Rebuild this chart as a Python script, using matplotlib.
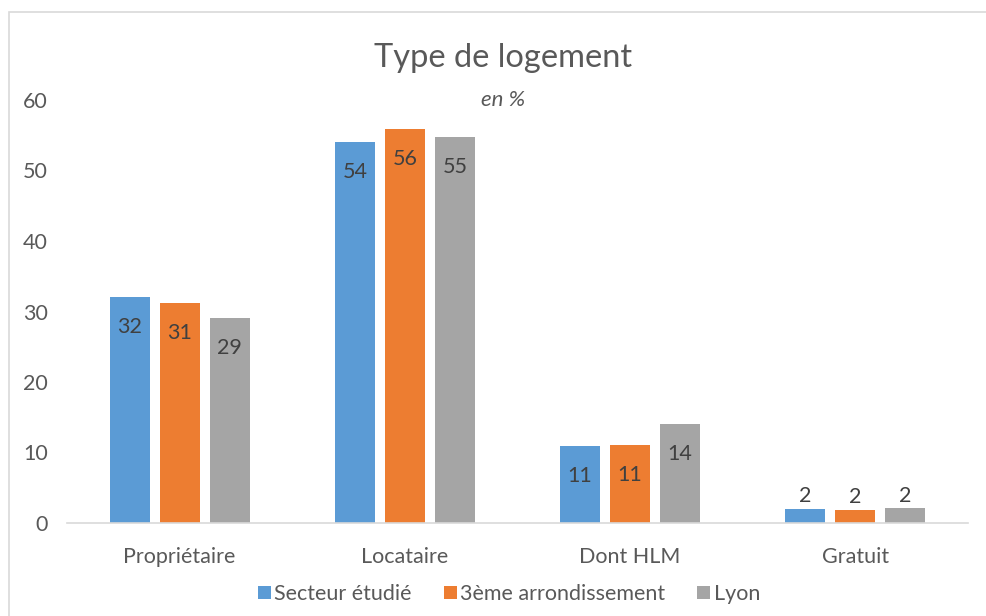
import matplotlib
matplotlib.use("Agg")
import matplotlib.pyplot as plt
from matplotlib.patches import Rectangle
import numpy as np

categories = ["Propriétaire", "Locataire", "Dont HLM", "Gratuit"]
series_names = ["Secteur étudié", "3ème arrondissement", "Lyon"]
secteur = [32.1, 54.0, 10.9, 2.0]
arrondissement = [31.2, 55.9, 11.1, 1.9]
lyon = [29.1, 54.8, 14.0, 2.1]
colors = ["#5B9BD5", "#ED7D31", "#A5A5A5"]
yticks = [0, 10, 20, 30, 40, 50, 60]

plt.rcParams['font.family'] = ['Lato', 'DejaVu Sans']
txt = "#595959"

fig = plt.figure(figsize=(9.87, 6.16), dpi=100)
ax = fig.add_axes([67/987, 1-523/616, (968-67)/987, (523-100)/616])

x = np.arange(len(categories))
w = 0.177
step = 0.222
for i, (vals, name, c) in enumerate(zip([secteur, arrondissement, lyon], series_names, colors)):
    pos = x + (i-1)*step
    ax.bar(pos, vals, width=w, color=c, label=name, zorder=2)
    for p, v in zip(pos, vals):
        if v < 5:
            ax.annotate(f"{round(v)}", (p, v), xytext=(0, 9), textcoords="offset points",
                        ha="center", va="center", fontsize=15.5, color="#404040")
        else:
            ax.annotate(f"{round(v)}", (p, v), xytext=(0, -21.5), textcoords="offset points",
                        ha="center", va="center", fontsize=15.5, color="#404040")

ax.set_xlim(-0.5, len(categories)-0.5)
ax.set_ylim(0, 60)
ax.set_yticks(yticks)
ax.set_xticks(x)
ax.set_xticklabels(categories)
for s in ["top", "right", "left"]:
    ax.spines[s].set_visible(False)
ax.spines["bottom"].set_color("#D9D9D9")
ax.spines["bottom"].set_linewidth(1.2)
ax.tick_params(axis="both", length=0, labelsize=15.5, colors=txt)
ax.tick_params(axis="y", pad=14)
ax.tick_params(axis="x", pad=17)

fig.text(503/987, 1-58/616, "Type de logement", ha="center", va="center", fontsize=23.5, color=txt)
fig.text(503/987, 1-100/616, "en %", ha="center", va="center", fontsize=16, color=txt, style="italic")

leg = ax.legend(loc="center", bbox_to_anchor=(509/987, 1-594/616), bbox_transform=fig.transFigure,
                ncol=3, frameon=False, fontsize=15.5, handlelength=0.6, handleheight=0.6,
                handletextpad=0.15, columnspacing=1.5, labelcolor=txt)

fig.patches.append(Rectangle((9/987, -0.1), 1.2, 1.1-12/616, transform=fig.transFigure,
                             fill=False, edgecolor="#D9D9D9", linewidth=1.2))

fig.savefig("out.png", dpi=100)
